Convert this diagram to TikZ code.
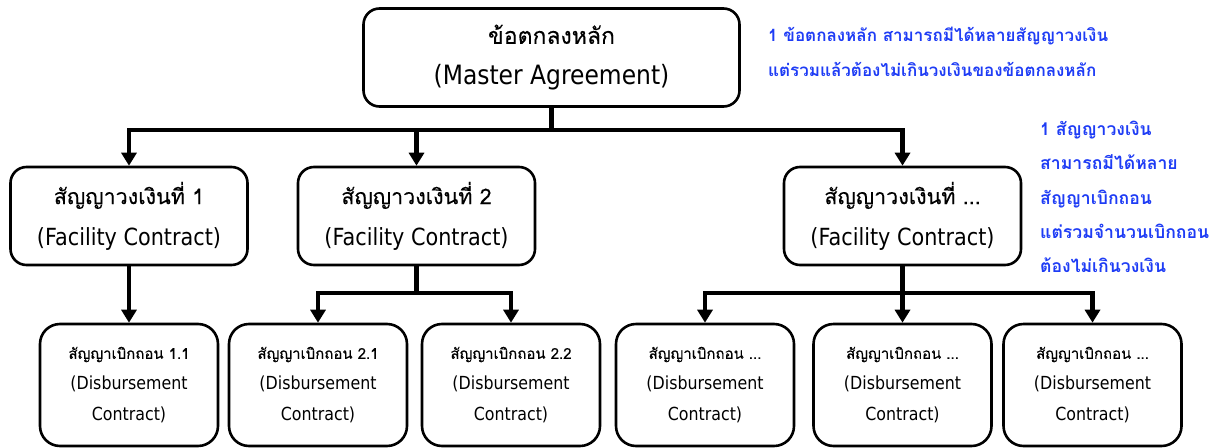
\documentclass[tikz,border=0pt]{standalone}
\usepackage{fontspec}
\setmainfont[Script=Thai,UprightFeatures={FakeBold=0.25}]{Loma}
\newfontfamily\latinfam[FakeStretch=0.88]{DejaVu Sans}
\newcommand\mlatfont{\latinfam\fontsize{26.6}{41}\selectfont}
\newcommand\flatfont{\latinfam\fontsize{23.6}{42}\selectfont}
\newcommand\dlatfont{\latinfam\fontsize{18}{31}\selectfont}
\usetikzlibrary{arrows.meta,positioning}
\definecolor{noteblue}{RGB}{30,60,245}
\tikzset{
  box/.style={draw=black,line width=2.6pt,rounded corners=16pt,align=center,inner sep=0pt,fill=white},
  mbox/.style={box,minimum width=376pt,minimum height=98pt,font=\fontsize{23}{41}\selectfont},
  fbox/.style={box,minimum width=237pt,minimum height=98pt,font=\fontsize{21.5}{41}\selectfont},
  dbox/.style={box,rounded corners=20pt,minimum width=178pt,minimum height=122pt,font=\fontsize{15}{31}\selectfont},
  conn/.style={line width=4.5pt,-{Triangle[length=13pt,width=15pt]}},
  line/.style={line width=4.5pt},
  note/.style={text=noteblue,font=\fontsize{17}{34.5}\selectfont\bfseries,align=left,inner sep=0pt,anchor=north west}
}
\begin{document}
\begin{tikzpicture}[x=1pt,y=-1pt]
\useasboundingbox (0,0) rectangle (1222,447);
\node[mbox] (m) at (551.5,57.5) {ข้อตกลงหลัก\\{\mlatfont (Master Agreement)}};
\node[fbox] (f1) at (129,216) {สัญญาวงเงินที่ 1\\{\flatfont (Facility Contract)}};
\node[fbox] (f2) at (416.5,216) {สัญญาวงเงินที่ 2\\{\flatfont (Facility Contract)}};
\node[fbox] (f3) at (902.5,216) {สัญญาวงเงินที่ ...\\{\flatfont (Facility Contract)}};
\node[dbox] (d11) at (129,385) {สัญญาเบิกถอน 1.1\\{\dlatfont (Disbursement}\\{\dlatfont Contract)}};
\node[dbox] (d21) at (318,385) {สัญญาเบิกถอน 2.1\\{\dlatfont (Disbursement}\\{\dlatfont Contract)}};
\node[dbox] (d22) at (511,385) {สัญญาเบิกถอน 2.2\\{\dlatfont (Disbursement}\\{\dlatfont Contract)}};
\node[dbox] (d31) at (705,385) {สัญญาเบิกถอน ...\\{\dlatfont (Disbursement}\\{\dlatfont Contract)}};
\node[dbox] (d32) at (902.5,385) {สัญญาเบิกถอน ...\\{\dlatfont (Disbursement}\\{\dlatfont Contract)}};
\node[dbox] (d33) at (1092.5,385) {สัญญาเบิกถอน ...\\{\dlatfont (Disbursement}\\{\dlatfont Contract)}};
\coordinate (mb) at (551.5,130);
\coordinate (f2b) at (416.5,293);
\coordinate (f3b) at (902.5,293);
\draw[line] (m.south) -- (mb);
\draw[conn] (mb) -| (f1.north);
\draw[conn] (mb) -| (f2.north);
\draw[conn] (mb) -| (f3.north);
\draw[conn] (f1.south) -- (d11.north);
\draw[line] (f2.south) -- (f2b);
\draw[conn] (f2b) -| (d21.north);
\draw[conn] (f2b) -| (d22.north);
\draw[line] (f3.south) -- (f3b);
\draw[conn] (f3b) -| (d31.north);
\draw[conn] (f3b) -- (d32.north);
\draw[conn] (f3b) -| (d33.north);
\node[note] (n1) at (768,27) {1 ข้อตกลงหลัก สามารถมีได้หลายสัญญาวงเงิน\\แต่รวมแล้วต้องไม่เกินวงเงินของข้อตกลงหลัก};
\node[note,font=\fontsize{17.6}{34.2}\selectfont\bfseries] (n2) at (1040,121) {1 สัญญาวงเงิน\\สามารถมีได้หลาย\\สัญญาเบิกถอน\\แต่รวมจำนวนเบิกถอน\\ต้องไม่เกินวงเงิน};
\end{tikzpicture}
\end{document}
